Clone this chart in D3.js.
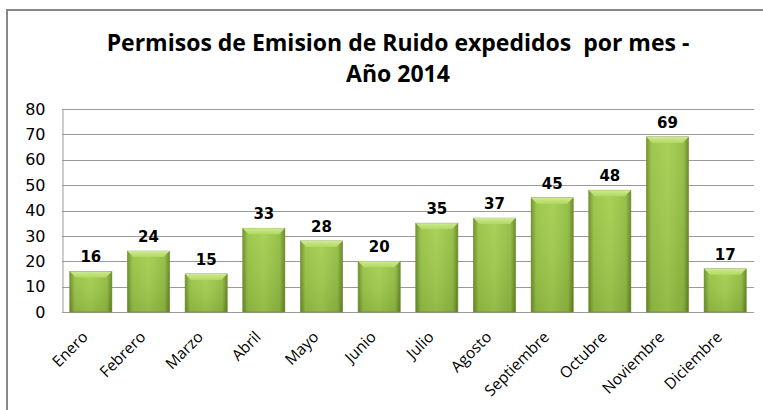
<!DOCTYPE html>
<html><head><meta charset="utf-8">
<script src="https://cdn.jsdelivr.net/npm/d3@7"></script>
<style>body{margin:0;background:#fff;}svg{display:block;}</style>
</head><body>
<svg id="c" width="763" height="410"></svg>
<script>
const months = ["Enero","Febrero","Marzo","Abril","Mayo","Junio","Julio","Agosto","Septiembre","Octubre","Noviembre","Diciembre"];
const values = [16,24,15,33,28,20,35,37,45,48,69,17];
const yTicks = [0,10,20,30,40,50,60,70,80];
const titleLines = ["Permisos de Emision de Ruido expedidos  por mes -","Año 2014"];

const svg = d3.select("#c");
const W = 763, H = 410;
const m = {left:62, right:9, top:109, bottom:98};

// frame
svg.append("rect").attr("x",7).attr("y",10).attr("width",W+20).attr("height",H+20)
  .attr("fill","#fff").attr("stroke","#878787").attr("stroke-width",2);

const defs = svg.append("defs");
const g1 = defs.append("linearGradient").attr("id","barGrad").attr("x1","0").attr("x2","1").attr("y1","0").attr("y2","0");
g1.append("stop").attr("offset","0").attr("stop-color","#6e9028");
g1.append("stop").attr("offset","0.12").attr("stop-color","#98c446");
g1.append("stop").attr("offset","0.5").attr("stop-color","#a4cf4f");
g1.append("stop").attr("offset","0.88").attr("stop-color","#92bd42");
g1.append("stop").attr("offset","1").attr("stop-color","#668622");
const g2 = defs.append("linearGradient").attr("id","bevel").attr("x1","0").attr("x2","0").attr("y1","0").attr("y2","1");
g2.append("stop").attr("offset","0").attr("stop-color","#cfe996");
g2.append("stop").attr("offset","1").attr("stop-color","#b0d95e");
const g3 = defs.append("linearGradient").attr("id","vshade").attr("x1","0").attr("x2","0").attr("y1","0").attr("y2","1");
g3.append("stop").attr("offset","0").attr("stop-color","#ffffff").attr("stop-opacity",0.05);
g3.append("stop").attr("offset","1").attr("stop-color","#000000").attr("stop-opacity",0.1);

const x = d3.scaleBand().domain(months).range([m.left, W - m.right]).paddingInner(0.27).paddingOuter(0.135);
const y = d3.scaleLinear().domain([0,80]).range([H - m.bottom, m.top]);

// title (two separate lines)
svg.append("g").selectAll("text").data(titleLines).join("text")
  .attr("x",398).attr("y",(d,i)=> i===0 ? 51 : 82).attr("text-anchor","middle")
  .attr("font-family","'Open Sans', sans-serif").attr("font-weight","bold").attr("font-size",23)
  .attr("fill","#000").attr("xml:space","preserve").text(d=>d);

// gridlines
svg.append("g").selectAll("line").data(yTicks).join("line")
  .attr("x1",m.left).attr("x2",W - m.right)
  .attr("y1",d=>Math.round(y(d))+0.5).attr("y2",d=>Math.round(y(d))+0.5)
  .attr("stroke","#9a9a9a").attr("stroke-width",1);

// y axis
const ya = svg.append("g").attr("transform",`translate(${m.left+0.5},0)`)
  .call(d3.axisLeft(y).tickValues(yTicks).tickSize(0).tickPadding(17));
ya.select(".domain").attr("stroke","#9a9a9a");
ya.selectAll("text").attr("font-family","'DejaVu Sans', sans-serif").attr("font-size",16).attr("fill","#000");

// bars
const bars = svg.append("g").selectAll("g").data(months).join("g");
bars.append("rect").attr("x",d=>x(d)).attr("y",(d,i)=>y(values[i]))
  .attr("width",x.bandwidth()).attr("height",(d,i)=>y(0)-y(values[i]))
  .attr("fill","url(#barGrad)");
bars.append("rect").attr("x",d=>x(d)).attr("y",(d,i)=>y(values[i]))
  .attr("width",x.bandwidth()).attr("height",(d,i)=>y(0)-y(values[i]))
  .attr("fill","url(#vshade)").attr("stroke","#6a8a25").attr("stroke-width",0.6);
bars.append("path").attr("d",(d,i)=>{
  const x0=x(d), x1=x(d)+x.bandwidth(), t=y(values[i]), b=6;
  return `M${x0},${t}L${x1},${t}L${x1-b},${t+b}L${x0+b},${t+b}Z`;
}).attr("fill","url(#bevel)");

// value labels
svg.append("g").selectAll("text").data(months).join("text")
  .attr("x",d=>x(d)+x.bandwidth()/2).attr("y",(d,i)=>y(values[i])-9)
  .attr("text-anchor","middle").attr("font-family","'DejaVu Sans', sans-serif")
  .attr("font-weight","bold").attr("font-size",15).attr("fill","#000")
  .text((d,i)=>values[i]);

// x labels
svg.append("g").selectAll("text").data(months).join("text")
  .attr("transform",d=>`translate(${x(d)+x.bandwidth()/2-2},${y(0)+26}) rotate(-45)`)
  .attr("text-anchor","end").attr("font-family","'Open Sans', sans-serif")
  .attr("font-size",15.5).attr("fill","#000").text(d=>d);
</script>
</body></html>
